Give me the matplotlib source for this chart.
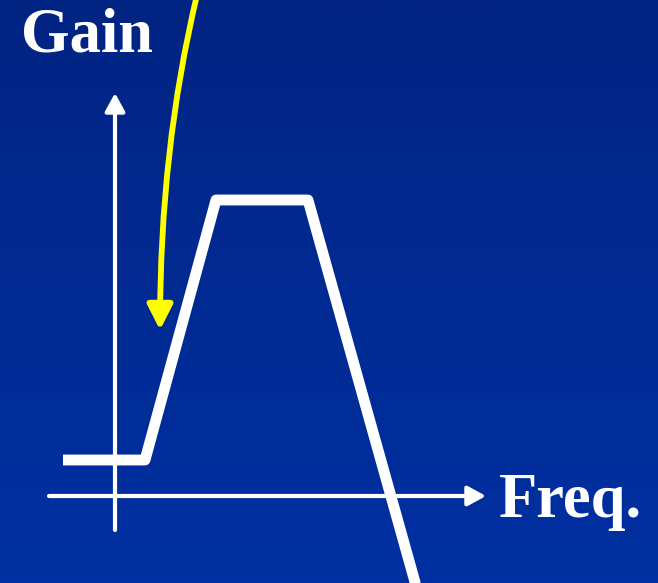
import numpy as np
import matplotlib
matplotlib.use("Agg")
import matplotlib.pyplot as plt
from matplotlib.path import Path
from matplotlib.patches import FancyArrowPatch
from matplotlib.colors import LinearSegmentedColormap

# canvas in pixel units (y grows downward)
W, H = 658, 583

# band-pass gain response (sketch)
gain_x = [63, 145, 216, 308, 420]
gain_y = [460, 460, 200, 200, 600]

# axes of the sketch
yaxis_x, yaxis_bottom, yaxis_top = 115, 530, 93
xaxis_y, xaxis_left, xaxis_right = 496, 49, 486

# yellow pointer (quadratic curve: start, control, end)
pointer_pts = [(197, -5), (160, 150), (160, 330)]

labels = {"Gain": (21, 52), "Freq.": (499, 517)}

fig = plt.figure(figsize=(W / 100, H / 100), dpi=100)
ax = fig.add_axes([0, 0, 1, 1])
ax.set_xlim(0, W)
ax.set_ylim(H, 0)
ax.axis("off")

# background gradient
cmap = LinearSegmentedColormap.from_list("bg", ["#022483", "#0030a2"])
grad = np.linspace(0, 1, 256).reshape(-1, 1)
ax.imshow(grad, cmap=cmap, aspect="auto", extent=[0, W, H, 0], zorder=0)

# axes arrows
for start, end in [((yaxis_x, yaxis_bottom), (yaxis_x, yaxis_top)),
                   ((xaxis_left, xaxis_y), (xaxis_right, xaxis_y))]:
    ax.annotate("", xy=end, xytext=start,
                arrowprops=dict(arrowstyle="-|>,head_length=0.55,head_width=0.3",
                                lw=3, color="white", mutation_scale=20,
                                shrinkA=0, shrinkB=0), zorder=2)

# gain curve
ax.plot(gain_x, gain_y, color="white", lw=7.8, solid_joinstyle="round",
        solid_capstyle="butt", zorder=3)

# yellow pointer
p = Path(pointer_pts, [Path.MOVETO, Path.CURVE3, Path.CURVE3])
arrow = FancyArrowPatch(path=p, arrowstyle="-|>,head_length=0.75,head_width=0.38",
                        mutation_scale=20, lw=4.2, color="#ffff00", zorder=4)
ax.add_patch(arrow)

for txt, (x, y) in labels.items():
    ax.text(x, y, txt, color="white", fontsize=45, fontweight="bold",
            family="Liberation Serif", ha="left", va="baseline", zorder=5)

fig.savefig("out.png", dpi=100)
